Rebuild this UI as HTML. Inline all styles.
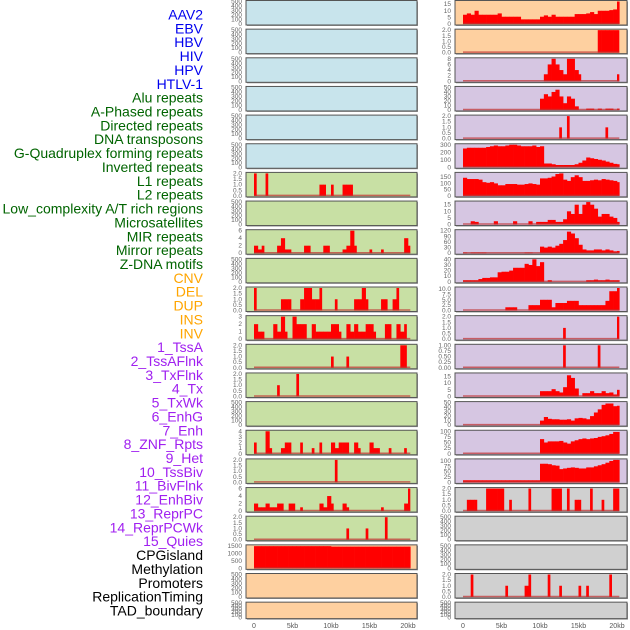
<!DOCTYPE html>
<html><head><meta charset="utf-8">
<style>
html,body{margin:0;padding:0;background:#fff;width:630px;height:630px;overflow:hidden;}
svg{display:block;font-family:"Liberation Sans","DejaVu Sans",sans-serif;}
</style></head>
<body>
<svg id="chart" width="630" height="630" viewBox="0 0 630 630"></svg>
<script>
const NS="http://www.w3.org/2000/svg";
const rowLabels=["AAV2","EBV","HBV","HIV","HPV","HTLV-1","Alu repeats","A-Phased repeats","Directed repeats","DNA transposons","G-Quadruplex forming repeats","Inverted repeats","L1 repeats","L2 repeats","Low_complexity A/T rich regions","Microsatellites","MIR repeats","Mirror repeats","Z-DNA motifs","CNV","DEL","DUP","INS","INV","1_TssA","2_TssAFlnk","3_TxFlnk","4_Tx","5_TxWk","6_EnhG","7_Enh","8_ZNF_Rpts","9_Het","10_TssBiv","11_BivFlnk","12_EnhBiv","13_ReprPC","14_ReprPCWk","15_Quies","CPGisland","Methylation","Promoters","ReplicationTiming","TAD_boundary"];
const labelColors=["#0000ee","#0000ee","#0000ee","#0000ee","#0000ee","#0000ee","#006400","#006400","#006400","#006400","#006400","#006400","#006400","#006400","#006400","#006400","#006400","#006400","#006400","#ffa500","#ffa500","#ffa500","#ffa500","#ffa500","#a020f0","#a020f0","#a020f0","#a020f0","#a020f0","#a020f0","#a020f0","#a020f0","#a020f0","#a020f0","#a020f0","#a020f0","#a020f0","#a020f0","#a020f0","#000","#000","#000","#000","#000"];
const xTicksKb=[0,5,10,15,20];
const xTickLabels=["0","5kb","10kb","15kb","20kb"];
const dataEndKb=20.3;
const L6=[[0,2],[1.5,2],[8.5,1],[9,1],[10,1],[11.5,1],[12,1],[12.5,1]];
const L8=[[0,2],[0.5,1],[1,2],[3,2],[3.5,4],[4,1],[4.5,1],[6.5,2],[7,2],[9,2],[9.5,2],[11.5,1],[12,2],[12.5,6],[13,2],[15,1],[16.5,1],[19.5,4],[20,2]];
const L10=[[0,2],[3.5,1],[4,1],[4.5,1],[6,1],[6.5,2],[7,2],[7.5,1],[8,1],[8.5,2],[10.5,1],[13,1],[13.5,1],[14,2],[14.5,1],[16.5,1],[17,1],[18,1],[18.5,2]];
const L11=[[0,2],[0.5,1],[1,1],[2.5,2],[3,1],[3.5,3],[4,1],[5,3],[5.5,2],[6,2],[6.5,2],[7.5,2],[8,1],[8.5,1],[9,1],[9.5,1],[10,2],[10.5,2],[11,1],[12,2],[12.5,1],[13,2],[13.5,1],[14,1],[14.5,2],[15,2],[15.5,1],[17,2],[17.5,2],[18.5,2],[19,1],[19.5,2]];
const L12=[[10,1],[12,1],[19,2],[19.5,2]];
const L13=[[3,1],[5.5,2]];
const L15=[[0,2],[1.5,4],[2,1],[3.5,1],[4,2],[4.5,2],[6,2],[7.5,1],[8.5,2],[10,2],[10.5,1],[11,2],[11.5,2],[12,2],[13,2],[13.5,1],[15,2],[15.5,1],[16,1],[17.5,1],[19.5,1]];
const L16=[[10.5,2]];
const L17=[[0,2],[0.5,1],[1,1],[1.5,2],[2,1],[2.5,1],[3,2],[3.5,2],[4.5,2],[5,2],[6,1],[8.5,2],[9,1],[9.5,4],[10,2],[11.5,2],[12,1],[16.5,1],[19.5,2],[20,6]];
const L18=[[12,1],[14.5,1],[17,2]];
const R1=[[17.5,2],[18,2],[18.5,2],[19,2],[19.5,2],[20,2]];
const R2=[[10.5,2.5],[11,6],[11.5,8],[12,6],[12.5,4],[13,2.5],[13.5,8],[14,8],[14.5,4],[15,2.5],[20,2.5]];
const R4=[[12.5,1],[13.5,2],[18.5,1]];
const R11=[[13,1],[20,2]];
const R12=[[13,1],[17.5,1]];
const R17=[[0.5,1],[1,1],[1.5,1],[3,2],[3.5,2],[4,2],[4.5,2],[5,2],[6,1],[8.5,2],[11.5,2],[12,2],[12.5,2],[13.5,2],[14.5,1],[15,1],[16.5,2],[18,1],[19.5,2],[20,2]];
const R20=[[1,2],[5.5,1],[8,1],[8.5,2],[11,2],[12.5,1],[15,1],[16,1],[19,2]];
const L19=[1480,1480,1480,1480,1480,1480,1480,1480,1480,1480,1480,1480,1480,1480,1480,1480,1480,1480,1480,1480,1450,1450,1450,1450,1450,1450,1450,1450,1450,1450,1450,1450,1450,1450,1450,1450,1450,1450,1450,1450,1450];
const R0=[7,8,7,10,7,7,7,7,7,8,5.5,5.5,5.5,5.5,5.5,3.5,3.5,3.5,3.5,3.5,5.5,6.5,5.5,7,5.5,5.5,5.5,5.5,5.5,7.5,7.5,7.5,8,9,7.5,10,10,10,10.5,11,17];
const R3=[0,0,0,0,0,0,0,0,0,0,0,0,0,0,0,0,0,0,0,0,25,35,30,40,45,30,15,30,25,8,0,0,3,3,0,3,0,3,3,0,3];
const R5=[250,260,260,260,260,260,270,280,290,280,280,290,300,300,290,280,280,280,290,270,280,50,50,40,30,30,30,30,30,40,60,90,130,120,110,100,90,75,60,45,40];
const R6=[145,135,135,135,130,110,105,110,100,85,85,95,95,95,90,90,95,100,95,90,140,140,145,155,175,180,130,120,150,165,150,120,120,125,130,125,135,130,125,120,110];
const R7=[0,0,2.5,2,0,0,0,0,2.5,0,0,0,0,2.5,0,0,0,2.5,0,2,2,2,3.5,3.5,2,2,4,10,8,15,8,15,17,15,12,6,8,8,6,5,2];
const R8=[3,0,3,3,3,3,0,0,0,0,0,0,0,0,0,0,3,3,0,0,35,30,35,30,40,50,70,115,105,80,45,20,15,15,20,20,15,20,15,10,12];
const R9=[3,3,3,3,5,7,7,8,8,17,18,18,20,25,25,25,32,30,40,28,35,0,3,0,0,0,0,0,0,0,0,0,3,3,4,3,3,4,3,3,3];
const R10=[0,0,0,0,0,0,0,0,0,0,0,1.5,1.5,1.5,0,0,0,2.5,2.5,2.5,5,5,5,1.5,3.5,3.5,3.5,4.5,4.5,4.5,2.5,2.5,2.5,2.5,2.5,2.5,2.5,4.5,9,9,10.5];
const R13=[0,0,0,0,0,0,0,0,0,0,0,0,0,0,0,0,0,0,0,0,4,4,4,5.5,4,3,7,16,14,6,0,2.5,2.5,4,2.5,2.5,4,2.5,3,1.5,5];
const R14=[0,0,0,0,0,0,0,0,0,0,0,0,0,0,0,0,0,0,0,0,10,18,14,13,13,12,12,13,10,15,16,15,13,20,28,35,45,48,48,42,43];
const R15=[0,0,0,0,0,0,0,0,0,0,0,0,0,0,0,0,0,0,0,0,65,50,55,55,55,57,50,45,55,60,65,68,65,68,70,75,78,82,88,97,97];
const R16=[10,10,10,10,10,10,10,10,10,10,10,10,10,10,10,10,10,10,10,10,87,87,85,80,78,62,65,68,70,68,65,65,70,70,75,80,85,92,100,105,105];

const E=[0,100,200,300,400,500];
const T2=[0,0.5,1,1.5,2];
const BG={b:"#c8e4ec",g:"#c8e0a4",p:"#fed0a0",u:"#d6c6e2",y:"#d0d0d0"};
const leftPanels=[
["b",null,0,500,E,0],["b",null,0,500,E,0],["b",null,0,500,E,0],["b",null,0,500,E,0],["b",null,0,500,E,0],["b",null,0,500,E,0],
["g",L6,0,2,T2,1],["g",null,0,500,E,0],["g",L8,0,6,[0,2,4,6],0],["g",null,0,500,E,0],["g",L10,0,2,T2,1],["g",L11,0,3,[0,1,2,3],0],
["g",L12,0,2,T2,1],["g",L13,0,2,T2,1],["g",null,0,500,E,0],["g",L15,0,4,[0,1,2,3,4],0],["g",L16,0,2,T2,1],["g",L17,0,6,[0,2,4,6],0],
["g",L18,0,2,T2,1],["p",L19,1,1500,[0,500,1000,1500],0],["p",null,0,500,E,0],["p",null,0,500,E,0]];
const rightPanels=[
["p",R0,1,17,[0,5,10,15],0],["p",R1,0,2,T2,1],["u",R2,0,8,[0,2,4,6,8],0],["u",R3,1,50,[0,10,20,30,40,50],0],["u",R4,0,2,T2,1],
["u",R5,1,300,[0,100,200,300],0],["u",R6,1,180,[0,50,100,150],0],["u",R7,1,17,[0,5,10,15],0],["u",R8,1,120,[0,30,60,90,120],0],
["u",R9,1,40,[0,10,20,30,40],0],["u",R10,1,10.5,[0,2.5,5,7.5,10],1],["u",R11,0,2,T2,1],["u",R12,0,1,[0,0.25,0.5,0.75,1],2],
["u",R13,1,17,[0,5,10,15],0],["u",R14,1,50,[0,10,20,30,40,50],0],["u",R15,1,100,[0,25,50,75,100],0],["u",R16,1,105,[0,25,50,75,100],0],
["y",R17,0,2,T2,1],["y",null,0,500,E,0],["y",null,0,500,E,0],["y",R20,0,2,T2,1],["y",null,0,500,E,0]];

const svg=document.getElementById("chart");
function mk(tag,attrs,parent){const e=document.createElementNS(NS,tag);for(const k in attrs)e.setAttribute(k,attrs[k]);(parent||svg).appendChild(e);return e;}

rowLabels.forEach((t,i)=>{
  const el=mk("text",{x:203,y:19.5+i*13.86,"text-anchor":"end","font-size":"14",fill:labelColors[i]});
  el.textContent=t;
  
  
});

const cols=[{x0:246,x1:417,zero:254,panels:leftPanels,n:"left"},{x0:455,x1:627,zero:463,panels:rightPanels,n:"right"}];
const pxPerKb=154/20;
cols.forEach(c=>{
  const xs=kb=>c.zero+kb*pxPerKb;
  c.panels.forEach((p,i)=>{
    const pt=0.5+i*28.65, ph=(i===21?16.5:24.5), pb=pt+ph;
    const g=mk("g",{});
    
    
    mk("rect",{x:c.x0+1,y:pt+1,width:c.x1-c.x0,height:ph,fill:"#999"},g);
    mk("rect",{x:c.x0,y:pt,width:c.x1-c.x0,height:ph,fill:BG[p[0]],stroke:"#555","stroke-width":1},g);
    const ymax=p[3];
    const ys=v=>(pb-1)-(v/ymax)*(ph-2);
    p[4].forEach(tv=>{
      const tl=mk("text",{x:c.x0-4,y:ys(tv)+2,"text-anchor":"end","font-size":"6.5",fill:"#666"},g);
      tl.textContent=tv.toFixed(p[5]);
      
      
    });
    if(!p[1])return;
    const dense=p[2];
    let pairs=dense?p[1].map((v,k)=>[k*0.5,v]):p[1];
    const kbSet=new Set(pairs.filter(q=>q[1]>0).map(q=>q[0]));
    pairs.forEach(([kb,v])=>{
      if(v<=0)return;
      const full=dense||kbSet.has(kb+0.5);
      const w=Math.min(full?0.5:0.35,dataEndKb-kb);
      const r=mk("rect",{x:xs(kb),y:ys(v),width:w*pxPerKb+(full?0.3:0),height:ys(0)-ys(v),fill:"#ff0000"},g);
      
      
    });
    const bl=mk("line",{x1:xs(0),x2:xs(dataEndKb),y1:ys(0)-0.5,y2:ys(0)-0.5,stroke:"#c03030","stroke-width":1.5,"stroke-opacity":0.7},g);
    
    
  });
  xTicksKb.forEach((kb,j)=>{
    const t=mk("text",{x:xs(kb),y:628,"text-anchor":"middle","font-size":"7",fill:"#555"});
    t.textContent=xTickLabels[j];
    
    
  });
});
</script>
</body></html>
